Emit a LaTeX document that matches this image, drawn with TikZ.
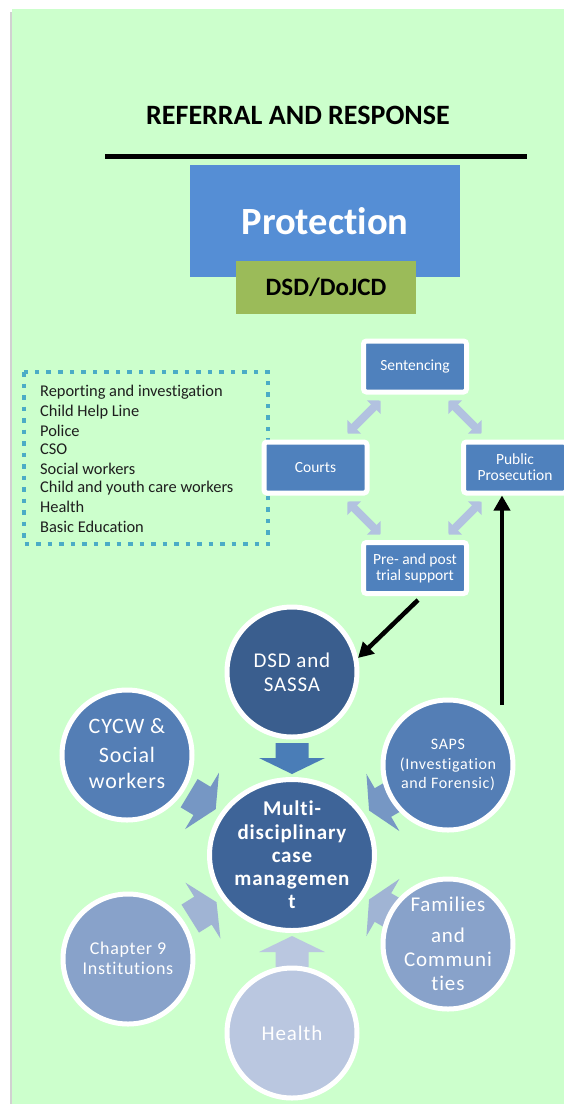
\documentclass[tikz,border=0pt]{standalone}
\usepackage{fontspec}
\setmainfont{Carlito}[Ligatures=NoCommon]
\newfontfamily\spc{Carlito}[LetterSpace=4,Ligatures=NoCommon]
\usetikzlibrary{shapes.geometric,arrows.meta,calc}
\definecolor{bggreen}{RGB}{204,255,204}
\definecolor{protblue}{RGB}{85,142,213}
\definecolor{olivebox}{RGB}{155,187,89}
\definecolor{boxblue}{RGB}{79,129,189}
\definecolor{dotblue}{RGB}{75,172,198}
\definecolor{palearrow}{RGB}{178,194,224}
\definecolor{cdark}{RGB}{58,94,142}
\definecolor{cmid}{RGB}{62,100,152}
\definecolor{cblue}{RGB}{84,126,181}
\definecolor{clight}{RGB}{136,162,202}
\definecolor{cpale}{RGB}{186,199,224}
\definecolor{adark}{RGB}{74,125,183}
\definecolor{amid}{RGB}{118,151,196}
\definecolor{alight}{RGB}{160,180,212}
\definecolor{listtext}{RGB}{30,30,30}
\newcommand\blockarrow[4]{%
  \fill[#4, shift={(#1)}, rotate=#2] (#3,0) -- ++(16,33) -- ++(0,-16.5) -- ++(15,0)
    -- ++(0,-33) -- ++(-15,0) -- ++(0,-16.5) -- cycle;}
\begin{document}
\begin{tikzpicture}[x=1pt,y=-1pt,
  flowbox/.style={draw=white, line width=5pt, fill=boxblue, rounded corners=3pt,
    minimum width=103pt, minimum height=51pt, inner sep=0pt, text=white,
    font=\fontsize{15.5}{16}\selectfont, align=center},
  circ/.style={circle, draw=white, line width=5pt, minimum size=130pt, inner sep=0pt},
  ctext/.style={text=white, align=center, inner sep=0pt},
  dbl/.style={palearrow, line width=8pt,
    {Triangle[length=9.5pt,width=19pt]}-{Triangle[length=9.5pt,width=19pt]}},
  blk/.style={black, line width=4.5pt, -{Triangle[length=15pt,width=16pt]}},
  listitem/.style={anchor=base west, inner sep=0pt, text=listtext,
    font=\fontsize{16.4}{18}\selectfont}]
% background
\fill[white] (0,0) rectangle (564,1104);
\fill[black!18] (10,12) rectangle (13,1104);
\fill[bggreen] (12,9) rectangle (564,1104);
\useasboundingbox (0,0) rectangle (564,1104);

% title and rule
\node[font=\bfseries\fontsize{28}{30}\selectfont, inner sep=0pt] (title) at (298,115) {REFERRAL AND RESPONSE};
\coordinate (ruleL) at (105,156);
\coordinate (ruleR) at (527,156);
\draw[line width=5pt] (ruleL) -- (ruleR);

% protection
\node[fill=protblue, minimum width=270pt, minimum height=112pt, inner sep=0pt,
  text=white, font=\bfseries\fontsize{38.5}{40}\selectfont] (prot) at (325,221) {Protection};
\node[fill=olivebox, minimum width=180pt, minimum height=53pt, inner sep=0pt,
  font=\bfseries\fontsize{25}{28}\selectfont] (dept) at (326,287.5) {DSD/DoJCD};

% dotted list box
\draw[dotblue, line width=4.5pt, dash pattern=on 4.5pt off 7pt] (24,372) rectangle (268,544);
\foreach \t/\y [count=\i] in {Reporting and investigation/396, Child Help Line/416,
  Police/436, CSO/454, Social workers/474, Child and youth care workers/492,
  Health/512, Basic Education/532}
  \node[listitem] (item\i) at (40,\y) {\t};

% flow boxes
\node[flowbox] (sen) at (415,366.5) {Sentencing};
\node[flowbox] (courts) at (315.5,467.5) {Courts};
\node[flowbox] (pp) at (515,467.5) {Public\\Prosecution};
\node[flowbox] (pre) at (415,568) {Pre- and post\\trial support};

\draw[dbl] ($(sen.south west)+(19.5,6)$) -- ($(courts.north east)+(-22,-6)$);
\draw[dbl] ($(sen.south east)+(-20.5,6)$) -- ($(pp.north west)+(20.5,-6)$);
\draw[dbl] ($(courts.south east)+(-22,6)$) -- ($(pre.north west)+(19.5,-5.5)$);
\draw[dbl] ($(pp.south west)+(20.5,6)$) -- ($(pre.north east)+(-20.5,-5.5)$);

% circles
\coordinate (mcc) at (292,855);
\blockarrow{mcc}{90}{81}{adark}
\blockarrow{mcc}{-90}{81}{cpale}
\blockarrow{mcc}{149}{89}{amid}
\blockarrow{mcc}{30}{89}{amid}
\blockarrow{mcc}{-148}{89}{alight}
\blockarrow{mcc}{-30}{89}{alight}

\node[circ, fill=cdark] (dsd) at (292,672) {};
\node[circ, fill=cblue] (cycw) at (127,755) {};
\node[circ, fill=cblue] (saps) at (448,765) {};
\node[circ, fill=clight] (ch9) at (128,959) {};
\node[circ, fill=clight] (fam) at (448,944) {};
\node[circ, fill=cpale] (health) at (292,1033) {};
\node[ellipse, draw=white, line width=5pt, fill=cmid, minimum width=165pt,
  minimum height=151pt, inner sep=0pt] (mdc) at (mcc) {};

\node[ctext, font=\spc\fontsize{21}{24}\selectfont] (dsdt) at (dsd) {DSD and\\SASSA};
\node[ctext, font=\spc\fontsize{22}{26}\selectfont] (cycwt) at (127,754) {CYCW \&\\[3pt]Social\\workers};
\node[ctext, font=\spc\fontsize{16}{19.5}\selectfont] (sapst) at (448,765) {SAPS\\(Investigation\\and Forensic)};
\node[ctext, font=\spc\fontsize{18}{20}\selectfont] (ch9t) at (128,958) {Chapter 9\\Institutions};
\node[ctext, font=\spc\fontsize{21}{24}\selectfont] (famt) at (448,944) {Families\\[7pt]and\\Communi\\ties};
\node[ctext, font=\spc\fontsize{21}{24}\selectfont] (healtht) at (292,1033) {Health};
\node[ctext, font=\spc\bfseries\fontsize{21}{23.3}\selectfont] (mdct) at (292,855) {Multi-\\disciplinary\\case\\managemen\\t};

% black arrows
\draw[blk] ($(pre.south)+(3,4)$) -- (dsd.12);
\coordinate (upstart) at (502,705);
\draw[blk] (upstart) -- (upstart |- pp.south);
\end{tikzpicture}
\end{document}
